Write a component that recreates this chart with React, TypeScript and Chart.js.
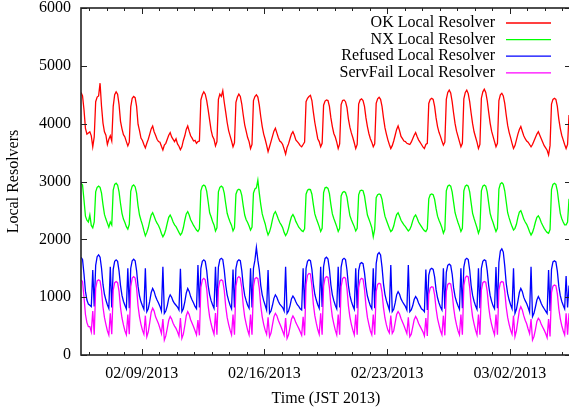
import React, { useEffect, useRef } from 'react';
import { Chart, registerables } from 'chart.js';

Chart.register(...registerables);

// Samples every 2 hours, starting 02/05/2013 13:00 JST (x values are hours after 02/05 00:00).
const FIRST_SAMPLE_HOUR = 13;
const SAMPLE_STEP_HOURS = 2;
const X_MIN_HOUR = 12.9;
const X_MAX_HOUR = 683.7;

const SERIES_LABELS = [
  'OK Local Resolver',
  'NX Local Resolver',
  'Refused Local Resolver',
  'ServFail Local Resolver',
];
const SERIES_COLORS = ['#ff0000', '#00ff00', '#0000ff', '#ff00ff'];

// one row per day (02/05 afternoon ... 03/05 morning)
const okResolvers = [
  4540, 4480, 4240, 3920, 3820, 3840,
  3860, 3790, 3600, 3770, 4380, 4460, 4480, 4700, 4300, 4010, 3860, 3800,
  3640, 3730, 3790, 3700, 4300, 4500, 4550, 4510, 4330, 4040, 3910, 3810,
  3770, 3690, 3615, 3680, 4290, 4440, 4470, 4450, 4300, 3990, 3880, 3750,
  3710, 3640, 3580, 3660, 3730, 3820, 3910, 3960, 3860, 3800, 3730, 3690,
  3680, 3610, 3545, 3630, 3660, 3730, 3800, 3845, 3770, 3730, 3690, 3740,
  3650, 3610, 3550, 3600, 3710, 3790, 3900, 3960, 3870, 3790, 3750, 3700,
  3710, 3660, 3690, 3700, 4410, 4500, 4550, 4510, 4400, 4240, 4060, 3890,
  3780, 3730, 3615, 3690, 4420, 4510, 4470, 4570, 4370, 4200, 4020, 3880,
  3790, 3700, 3600, 3670, 4370, 4460, 4510, 4470, 4340, 4150, 3980, 3870,
  3760, 3690, 3570, 3640, 4400, 4470, 4500, 4460, 4320, 4120, 3950, 3820,
  3730, 3630, 3515, 3600, 3690, 3780, 3870, 3920, 3840, 3760, 3700, 3680,
  3640, 3560, 3475, 3590, 3650, 3740, 3820, 3860, 3800, 3720, 3690, 3660,
  3620, 3600, 3640, 3680, 4380, 4440, 4470, 4490, 4400, 4200, 4020, 3880,
  3740, 3690, 3600, 3660, 4320, 4390, 4410, 4400, 4300, 4100, 3950, 3830,
  3770, 3680, 3570, 3650, 4330, 4400, 4410, 4380, 4280, 4080, 3940, 3840,
  3760, 3670, 3570, 3640, 4340, 4410, 4430, 4400, 4300, 4100, 3950, 3830,
  3740, 3680, 3600, 3650, 4350, 4430, 4455, 4420, 4300, 4100, 3930, 3820,
  3720, 3640, 3570, 3620, 3700, 3800, 3900, 3960, 3880, 3780, 3740, 3700,
  3690, 3660, 3650, 3640, 3680, 3740, 3800, 3845, 3780, 3720, 3680, 3640,
  3600, 3570, 3640, 3660, 4350, 4420, 4440, 4420, 4300, 4100, 3950, 3850,
  3780, 3700, 3630, 3680, 4420, 4540, 4580, 4530, 4380, 4180, 4000, 3870,
  3780, 3690, 3600, 3660, 4430, 4540, 4580, 4520, 4380, 4180, 4000, 3860,
  3770, 3680, 3570, 3640, 4440, 4550, 4595, 4540, 4400, 4200, 4010, 3870,
  3780, 3690, 3600, 3660, 4400, 4500, 4525, 4480, 4350, 4150, 3970, 3850,
  3760, 3660, 3570, 3620, 3720, 3820, 3900, 3950, 3870, 3790, 3740, 3700,
  3680, 3640, 3600, 3640, 3700, 3760, 3820, 3860, 3800, 3740, 3680, 3620,
  3580, 3540, 3460, 3620, 4340, 4420, 4440, 4420, 4300, 4080, 3920, 3800,
  3720, 3640, 3570, 3640, 4150,
];

const nxResolvers = [
  2970, 2940, 2680, 2400, 2330, 2300,
  2420, 2240, 2200, 2300, 2820, 2900, 2920, 2900, 2800, 2600, 2430, 2350,
  2280, 2210, 2300, 2250, 2850, 2950, 2970, 2940, 2820, 2620, 2450, 2350,
  2290, 2220, 2175, 2260, 2830, 2920, 2940, 2910, 2800, 2580, 2420, 2330,
  2250, 2150, 2060, 2120, 2200, 2320, 2420, 2460, 2400, 2330, 2280, 2240,
  2180, 2100, 2045, 2090, 2170, 2280, 2380, 2420, 2370, 2300, 2250, 2220,
  2170, 2120, 2075, 2110, 2200, 2330, 2440, 2480, 2420, 2340, 2290, 2240,
  2200, 2160, 2135, 2180, 2840, 2920, 2940, 2920, 2830, 2650, 2460, 2390,
  2310, 2250, 2145, 2200, 2820, 2900, 2920, 2900, 2800, 2620, 2450, 2370,
  2300, 2240, 2145, 2200, 2780, 2850, 2865, 2850, 2760, 2580, 2420, 2340,
  2290, 2230, 2160, 2210, 2800, 2870, 2890, 3025, 2800, 2600, 2440, 2350,
  2270, 2160, 2075, 2130, 2220, 2340, 2440, 2480, 2420, 2350, 2290, 2250,
  2200, 2120, 2065, 2110, 2190, 2300, 2390, 2430, 2380, 2310, 2260, 2210,
  2180, 2150, 2135, 2180, 2780, 2850, 2865, 2860, 2780, 2600, 2440, 2360,
  2290, 2220, 2135, 2190, 2810, 2890, 2900, 2880, 2790, 2600, 2440, 2360,
  2290, 2220, 2135, 2190, 2750, 2810, 2825, 2810, 2730, 2560, 2410, 2340,
  2280, 2220, 2145, 2190, 2770, 2840, 2850, 2840, 2750, 2580, 2420, 2350,
  2280, 2200, 2045, 2180, 2720, 2770, 2785, 2770, 2690, 2530, 2400, 2330,
  2260, 2190, 2135, 2160, 2230, 2340, 2430, 2460, 2400, 2330, 2290, 2250,
  2220, 2180, 2145, 2170, 2230, 2320, 2390, 2420, 2370, 2300, 2260, 2220,
  2180, 2150, 2135, 2180, 2700, 2770, 2785, 2770, 2690, 2530, 2400, 2330,
  2270, 2200, 2105, 2170, 2840, 2920, 2940, 2920, 2820, 2640, 2460, 2370,
  2290, 2220, 2135, 2190, 2840, 2920, 2940, 2920, 2820, 2630, 2450, 2360,
  2280, 2200, 2105, 2180, 2840, 2920, 2940, 2920, 2820, 2630, 2450, 2360,
  2290, 2210, 2135, 2190, 2870, 2960, 2980, 2950, 2840, 2650, 2460, 2370,
  2290, 2220, 2160, 2190, 2260, 2380, 2470, 2495, 2430, 2350, 2300, 2260,
  2200, 2130, 2075, 2120, 2200, 2300, 2380, 2405, 2360, 2290, 2240, 2190,
  2150, 2120, 2105, 2170, 2860, 2950, 2970, 2950, 2840, 2640, 2450, 2360,
  2300, 2250, 2250, 2300, 2700,
];

const refusedResolvers = [
  1690, 1650, 1400, 1100, 950, 880,
  860, 836, 1470, 840, 1550, 1700, 1730, 1690, 1500, 1220, 1050, 950,
  870, 807, 1527, 820, 1480, 1620, 1645, 1620, 1450, 1200, 1030, 930,
  860, 800, 1499, 810, 1500, 1630, 1655, 1630, 1460, 1190, 1020, 920,
  850, 790, 1500, 750, 800, 930, 1080, 1150, 1100, 1010, 950, 900,
  840, 760, 1527, 720, 760, 850, 980, 1040, 1000, 930, 890, 860,
  830, 780, 1490, 750, 800, 920, 1070, 1150, 1100, 1010, 950, 900,
  840, 800, 1556, 820, 1500, 1620, 1645, 1620, 1460, 1200, 1040, 940,
  870, 810, 1527, 830, 1520, 1650, 1672, 1650, 1470, 1210, 1040, 940,
  860, 800, 1480, 820, 1500, 1620, 1645, 1630, 1460, 1200, 1030, 940,
  860, 810, 1500, 820, 1500, 1640, 1860, 1640, 1470, 1200, 1040, 940,
  860, 780, 1470, 720, 760, 860, 980, 1040, 1000, 930, 880, 850,
  820, 760, 1527, 720, 760, 850, 970, 1020, 980, 920, 870, 840,
  800, 780, 1500, 800, 1500, 1620, 1645, 1630, 1480, 1220, 1050, 950,
  870, 810, 1527, 830, 1530, 1670, 1690, 1660, 1480, 1210, 1040, 940,
  860, 800, 1527, 820, 1520, 1650, 1672, 1650, 1470, 1200, 1030, 930,
  850, 790, 1500, 810, 1460, 1580, 1597, 1580, 1420, 1180, 1020, 930,
  850, 800, 1500, 810, 1580, 1740, 1769, 1730, 1520, 1230, 1050, 940,
  860, 780, 1557, 750, 790, 900, 1040, 1095, 1050, 970, 920, 880,
  840, 780, 1557, 749, 780, 850, 960, 1010, 970, 900, 850, 800,
  780, 749, 1480, 780, 1380, 1480, 1500, 1480, 1350, 1130, 990, 900,
  830, 780, 1500, 800, 1430, 1550, 1570, 1550, 1400, 1160, 1010, 920,
  850, 790, 1500, 810, 1520, 1650, 1672, 1650, 1470, 1200, 1030, 930,
  850, 790, 1500, 810, 1500, 1620, 1645, 1630, 1460, 1200, 1030, 930,
  850, 800, 1520, 810, 1600, 1800, 1835, 1780, 1540, 1240, 1060, 950,
  870, 800, 1500, 720, 790, 930, 1080, 1150, 1100, 1000, 940, 890,
  820, 740, 1527, 663, 720, 830, 950, 1010, 960, 890, 840, 800,
  760, 720, 1470, 760, 1480, 1610, 1630, 1610, 1450, 1190, 1030, 930,
  860, 800, 1366, 820, 1200,
];

const servFailResolvers = [
  1300, 1270, 1000, 700, 560, 490,
  490, 400, 760, 350, 1150, 1280, 1300, 1280, 1120, 830, 650, 530,
  420, 346, 720, 360, 1120, 1250, 1270, 1250, 1100, 820, 640, 520,
  420, 350, 700, 360, 1180, 1330, 1355, 1330, 1160, 850, 660, 530,
  430, 360, 680, 317, 400, 560, 740, 810, 760, 660, 600, 540,
  460, 370, 620, 259, 330, 460, 600, 665, 620, 550, 500, 460,
  400, 330, 640, 288, 360, 510, 680, 750, 700, 610, 550, 490,
  420, 350, 605, 340, 1170, 1300, 1325, 1300, 1140, 850, 660, 540,
  440, 360, 726, 350, 1150, 1280, 1300, 1280, 1120, 840, 650, 530,
  430, 350, 700, 350, 1190, 1330, 1355, 1330, 1160, 860, 660, 540,
  430, 350, 700, 350, 1180, 1320, 1340, 1320, 1150, 850, 660, 530,
  430, 360, 650, 317, 380, 520, 660, 720, 680, 600, 540, 480,
  410, 340, 640, 288, 350, 480, 620, 675, 630, 560, 510, 460,
  400, 340, 660, 340, 1220, 1380, 1410, 1400, 1200, 880, 680, 550,
  440, 360, 720, 350, 1190, 1330, 1355, 1340, 1160, 860, 660, 540,
  430, 350, 700, 350, 1180, 1320, 1345, 1330, 1150, 850, 660, 530,
  430, 350, 700, 350, 1160, 1300, 1325, 1310, 1140, 850, 650, 530,
  420, 350, 700, 350, 1100, 1220, 1240, 1230, 1080, 820, 640, 520,
  430, 380, 680, 375, 420, 560, 700, 750, 710, 630, 570, 510,
  440, 370, 650, 317, 360, 480, 610, 665, 620, 550, 500, 450,
  400, 330, 640, 330, 1050, 1160, 1180, 1170, 1040, 800, 630, 520,
  420, 350, 680, 340, 1100, 1220, 1240, 1230, 1080, 820, 640, 520,
  420, 350, 700, 350, 1200, 1340, 1365, 1350, 1170, 860, 660, 540,
  430, 350, 700, 350, 1120, 1250, 1270, 1260, 1100, 830, 650, 530,
  430, 350, 700, 350, 1120, 1250, 1270, 1260, 1100, 830, 650, 530,
  430, 360, 680, 317, 420, 600, 770, 835, 780, 680, 600, 540,
  450, 370, 620, 259, 320, 440, 580, 635, 600, 530, 480, 430,
  370, 300, 620, 320, 1080, 1190, 1210, 1200, 1060, 800, 630, 510,
  420, 350, 720, 350, 720,
];

const SERIES_VALUES = [okResolvers, nxResolvers, refusedResolvers, servFailResolvers];

// day boundaries (hours after 02/05 00:00), dated ones carry a label
const DAY_TICK_HOURS = [
  24, 48, 72, 96, 120, 144, 168, 192, 216, 240, 264, 288, 312, 336,
  360, 384, 408, 432, 456, 480, 504, 528, 552, 576, 600, 624, 648, 672,
];
const DATE_TICK_HOURS = [96, 264, 432, 600];
const DATE_TICK_LABELS = ['02/09/2013', '02/16/2013', '02/23/2013', '03/02/2013'];
const Y_TICKS = [0, 1000, 2000, 3000, 4000, 5000, 6000];

const FONT_FAMILY = '"Liberation Serif", "Times New Roman", serif';
const TEXT_COLOR = '#000';
const FRAME_COLOR = '#222';

// gnuplot-like border with inward ticks on all sides, plus the key in the top-right corner
const framePlugin = {
  id: 'gnuplotFrame',
  afterDatasetsDraw(chart: any) {
    const { ctx, chartArea: a, scales } = chart;
    const xs = scales.x;
    const ys = scales.y;
    ctx.save();

    ctx.strokeStyle = FRAME_COLOR;
    ctx.lineWidth = 1;
    ctx.beginPath();
    for (const v of Y_TICKS) {
      const y = Math.round(ys.getPixelForValue(v)) + 0.5;
      ctx.moveTo(a.left, y);
      ctx.lineTo(a.left + 6, y);
      ctx.moveTo(a.right, y);
      ctx.lineTo(a.right - 6, y);
    }
    for (const h of DAY_TICK_HOURS) {
      const len = DATE_TICK_HOURS.includes(h) ? 6 : 3;
      const x = Math.round(xs.getPixelForValue(h)) + 0.5;
      ctx.moveTo(x, a.bottom);
      ctx.lineTo(x, a.bottom - len);
      ctx.moveTo(x, a.top);
      ctx.lineTo(x, a.top + len);
    }
    ctx.stroke();

    ctx.lineWidth = 1.6;
    ctx.strokeRect(a.left, a.top, a.right - a.left, a.bottom - a.top);

    ctx.font = `16px ${FONT_FAMILY}`;
    ctx.textAlign = 'right';
    ctx.textBaseline = 'middle';
    ctx.fillStyle = TEXT_COLOR;
    chart.data.datasets.forEach((ds: any, i: number) => {
      const y = a.top + 15 + i * 16.6;
      ctx.fillText(ds.label, a.right - 76, y);
      ctx.strokeStyle = ds.borderColor;
      ctx.lineWidth = 1.3;
      ctx.beginPath();
      ctx.moveTo(a.right - 65, y);
      ctx.lineTo(a.right - 20, y);
      ctx.stroke();
    });

    ctx.restore();
  },
};

export default function App() {
  const canvasRef = useRef<HTMLCanvasElement>(null);

  useEffect(() => {
    if (!canvasRef.current) return;

    const datasets = SERIES_LABELS.map((label, s) => ({
      label,
      data: SERIES_VALUES[s].map((v, i) => ({ x: FIRST_SAMPLE_HOUR + i * SAMPLE_STEP_HOURS, y: v })),
      borderColor: SERIES_COLORS[s],
      backgroundColor: SERIES_COLORS[s],
      borderWidth: 1.3,
      pointRadius: 0,
      tension: 0,
      fill: false,
      order: SERIES_LABELS.length - s,
    }));

    const tickFont = { family: FONT_FAMILY, size: 16, lineHeight: 1 };
    const titleFont = { family: FONT_FAMILY, size: 16, lineHeight: 1.2 };

    const chart = new Chart(canvasRef.current, {
      type: 'line',
      data: { datasets },
      options: {
        responsive: false,
        devicePixelRatio: 1,
        animation: false,
        layout: { padding: { top: 8, right: 4, left: 0, bottom: 0 } },
        plugins: {
          legend: { display: false },
          tooltip: { enabled: false },
        },
        scales: {
          x: {
            type: 'linear',
            min: X_MIN_HOUR,
            max: X_MAX_HOUR,
            grid: { display: false, drawTicks: false },
            border: { display: false },
            afterBuildTicks: (scale: any) => {
              scale.ticks = DAY_TICK_HOURS.map((v) => ({ value: v }));
            },
            afterFit: (scale: any) => {
              scale.height = 56;
              scale.paddingLeft = 0;
              scale.paddingRight = 0;
            },
            ticks: {
              autoSkip: false,
              maxRotation: 0,
              minRotation: 0,
              padding: 11,
              color: TEXT_COLOR,
              font: tickFont,
              callback: (value: any) => {
                const k = DATE_TICK_HOURS.indexOf(Number(value));
                return k >= 0 ? DATE_TICK_LABELS[k] : '';
              },
            },
            title: {
              display: true,
              text: 'Time (JST 2013)',
              color: TEXT_COLOR,
              font: titleFont,
              padding: { top: 4, bottom: 3 },
            },
          },
          y: {
            type: 'linear',
            min: 0,
            max: 6000,
            grid: { display: false, drawTicks: false },
            border: { display: false },
            afterBuildTicks: (scale: any) => {
              scale.ticks = Y_TICKS.map((v) => ({ value: v }));
            },
            afterFit: (scale: any) => {
              scale.width = 81;
              scale.paddingTop = 0;
              scale.paddingBottom = 0;
            },
            ticks: {
              padding: 10,
              color: TEXT_COLOR,
              font: tickFont,
              callback: (value: any) => String(value),
            },
            title: {
              display: true,
              text: 'Local Resolvers',
              color: TEXT_COLOR,
              font: titleFont,
              padding: { top: 4, bottom: 4 },
            },
          },
        },
      },
      plugins: [framePlugin],
    } as any);

    return () => chart.destroy();
  }, []);

  return (
    <div
      style={{
        position: 'fixed',
        left: 0,
        top: 0,
        width: 569,
        height: 411,
        overflow: 'hidden',
        background: '#fff',
      }}
    >
      <canvas
        ref={canvasRef}
        width={575}
        height={411}
        style={{ display: 'block', width: 575, height: 411 }}
      />
    </div>
  );
}
